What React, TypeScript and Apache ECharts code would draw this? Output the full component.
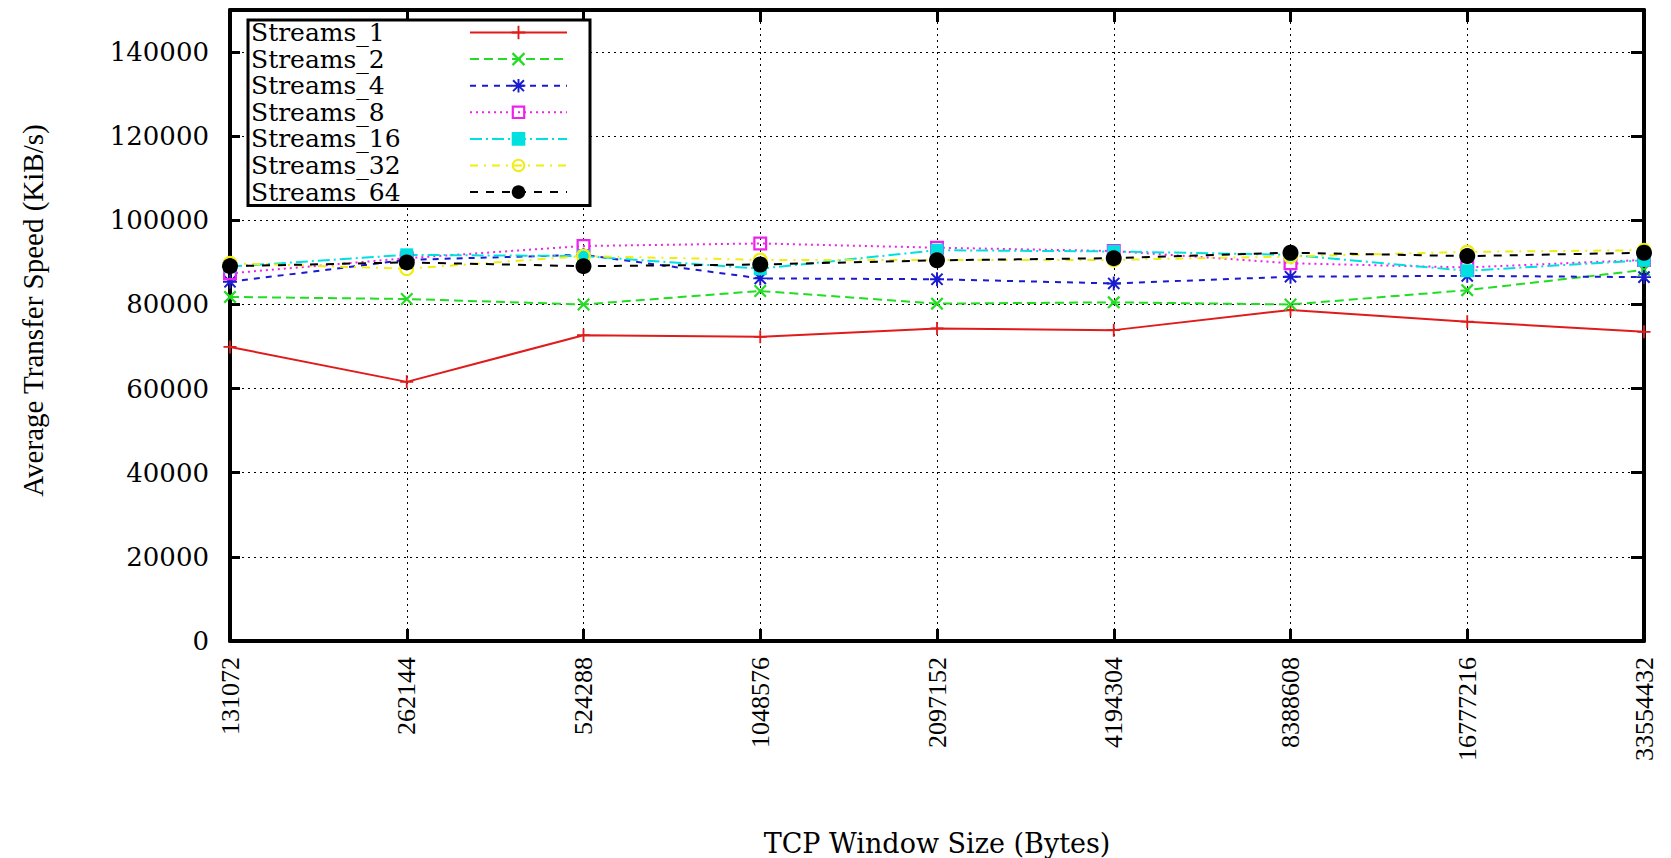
import React, { useEffect, useRef } from "react";
import * as echarts from "echarts";

const categories = ["131072", "262144", "524288", "1048576", "2097152", "4194304", "8388608", "16777216", "33554432"];
const yTicks = [0, 20000, 40000, 60000, 80000, 100000, 120000, 140000];

const streams1 = [69900, 61600, 72700, 72300, 74300, 73900, 78700, 75900, 73500];
const streams2 = [81800, 81300, 80000, 83200, 80200, 80500, 80000, 83400, 88200];
const streams4 = [85400, 90600, 91800, 86200, 86000, 85000, 86600, 86800, 86500];
const streams8 = [87400, 91000, 93900, 94500, 93500, 92700, 89800, 88800, 90600];
const streams16 = [89000, 91800, 91500, 88500, 92900, 92600, 91800, 88000, 90500];
const streams32 = [89800, 88500, 91500, 90600, 90600, 90600, 91400, 92500, 92900];
const streams64 = [89100, 90000, 89100, 89500, 90500, 91000, 92300, 91500, 92300];

const FONT_H = "DejaVu Serif";
const FONT_V = "Liberation Serif";

const PLUS = "path://M4.3,0H5.7V4.3H10V5.7H5.7V10H4.3V5.7H0V4.3H4.3Z";
const CROSS = "path://M0,1.2L1.2,0L5,3.8L8.8,0L10,1.2L6.2,5L10,8.8L8.8,10L5,6.2L1.2,10L0,8.8L3.8,5Z";
const STAR =
  "path://M4.3,0H5.7V4.3H10V5.7H5.7V10H4.3V5.7H0V4.3H4.3Z M0.5,1.5L1.5,0.5L5,4L8.5,0.5L9.5,1.5L6,5L9.5,8.5L8.5,9.5L5,6L1.5,9.5L0.5,8.5L4,5Z";
const HOLLOW_SQUARE = "path://M0,0H10V10H0Z M1.6,1.6V8.4H8.4V1.6Z";
const HOLLOW_CIRCLE =
  "path://M5,0A5,5,0,1,1,5,10A5,5,0,1,1,5,0Z M5,1.5A3.5,3.5,0,1,0,5,8.5A3.5,3.5,0,1,0,5,1.5Z";

const defs = [
  { name: "Streams_1", data: streams1, color: "#e01b1b", dash: "solid", symbol: PLUS, size: 13 },
  { name: "Streams_2", data: streams2, color: "#22dd22", dash: [9, 5], symbol: CROSS, size: 13 },
  { name: "Streams_4", data: streams4, color: "#1a1ad0", dash: [6, 6], symbol: STAR, size: 14 },
  { name: "Streams_8", data: streams8, color: "#ee22ee", dash: [2, 4], symbol: HOLLOW_SQUARE, size: 14 },
  { name: "Streams_16", data: streams16, color: "#00e0e0", dash: [12, 4, 2, 4], symbol: "rect", size: 13 },
  { name: "Streams_32", data: streams32, color: "#eeee11", dash: [8, 6, 2, 6], symbol: HOLLOW_CIRCLE, size: 15 },
  { name: "Streams_64", data: streams64, color: "#000000", dash: [8, 8], symbol: "circle", size: 16 },
];

export default function App() {
  const ref = useRef<HTMLDivElement>(null);
  useEffect(() => {
    if (!ref.current) return;
    const chart = echarts.init(ref.current, null, { renderer: "svg" });
    const axisLine = { show: true, onZero: false, lineStyle: { color: "#000", width: 4 } };
    const dotted = { show: true, lineStyle: { color: "#000", width: 1, type: [2, 4] } };
    chart.setOption({
      animation: false,
      backgroundColor: "#fff",
      grid: { left: 230, right: 27, top: 10, bottom: 217, containLabel: false, outerBoundsMode: "none" },
      legend: {
        orient: "vertical",
        left: 248,
        top: 20,
        align: "right",
        padding: [0, 22, 1, 3],
        itemGap: 1.6,
        itemWidth: 97,
        itemHeight: 17,
        backgroundColor: "#fff",
        borderColor: "#000",
        borderWidth: 3,
        borderRadius: 0,
        formatter: "{n|{name}}",
        textStyle: {
          color: "#000",
          fontFamily: FONT_H,
          fontSize: 25,
          rich: {
            n: { width: 214, align: "left", lineHeight: 26, fontFamily: FONT_H, fontSize: 25, color: "#000" },
          },
        },
        data: defs.map((d) => d.name),
      },
      xAxis: [
        {
          type: "category",
          data: categories,
          boundaryGap: false,
          position: "bottom",
          axisLine,
          axisTick: { show: true, inside: true, length: 12, lineStyle: { color: "#000", width: 3 } },
          axisLabel: { rotate: 90, interval: 0, fontFamily: FONT_V, fontSize: 26, color: "#000", margin: 16 },
          splitLine: dotted,
          name: "TCP Window Size (Bytes)",
          nameLocation: "middle",
          nameGap: 189,
          nameTextStyle: { fontFamily: FONT_H, fontSize: 27, color: "#000" },
        },
        {
          type: "category",
          data: categories,
          boundaryGap: false,
          position: "top",
          axisLine,
          axisTick: { show: true, inside: true, length: 12, lineStyle: { color: "#000", width: 3 } },
          axisLabel: { show: false },
          splitLine: { show: false },
        },
      ],
      yAxis: [
        {
          type: "value",
          min: 0,
          max: 150000,
          interval: 20000,
          position: "left",
          axisLine,
          axisTick: { show: true, inside: true, length: 10, lineStyle: { color: "#000", width: 3 } },
          axisLabel: {
            showMaxLabel: false,
            fontFamily: FONT_H,
            fontSize: 26,
            color: "#000",
            margin: 21,
            formatter: (v: number) => (yTicks.includes(v) ? String(v) : ""),
          },
          splitLine: dotted,
          name: "Average Transfer Speed (KiB/s)",
          nameLocation: "middle",
          nameGap: 183,
          nameTextStyle: { fontFamily: FONT_V, fontSize: 29, color: "#000", padding: [0, 0, 0, 30] },
        },
        {
          type: "value",
          min: 0,
          max: 150000,
          interval: 20000,
          position: "right",
          axisLine,
          axisTick: { show: true, inside: true, length: 13, lineStyle: { color: "#000", width: 3 } },
          axisLabel: { show: false },
          splitLine: { show: false },
        },
      ],
      series: defs.map((d) => ({
        name: d.name,
        type: "line",
        xAxisIndex: 0,
        yAxisIndex: 0,
        data: d.data,
        symbol: d.symbol,
        symbolSize: d.size,
        showSymbol: true,
        showAllSymbol: true,
        clip: false,
        color: d.color,
        lineStyle: { color: d.color, width: 2, type: d.dash },
        itemStyle: { color: d.color, borderWidth: 0 },
        emphasis: { disabled: true },
      })),
    });
    return () => chart.dispose();
  }, []);
  return <div ref={ref} style={{ position: "fixed", left: 0, top: 0, width: 1671, height: 858 }} />;
}
